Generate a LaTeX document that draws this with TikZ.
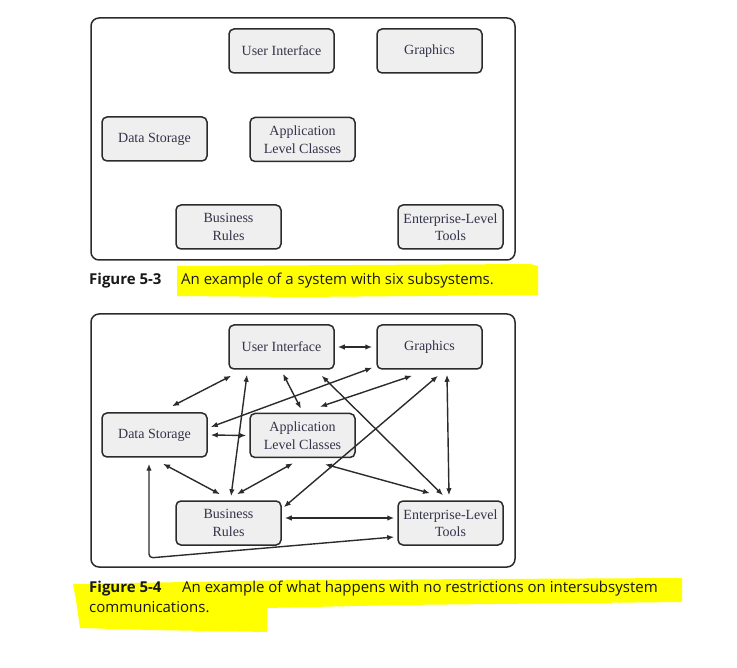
\documentclass[tikz,border=0pt]{standalone}
\usepackage{fontspec}
\newfontfamily\capfont{Open Sans}
\newfontfamily\boxfont{Liberation Serif}
\usetikzlibrary{arrows.meta}
\definecolor{boxfill}{HTML}{EFEFEF}
\definecolor{boxline}{HTML}{2B2B2B}
\definecolor{boxtext}{HTML}{33334A}
\definecolor{marker}{HTML}{FFFF00}
\tikzset{
  sub/.style={draw=boxline,fill=boxfill,line width=1.5pt,rounded corners=5pt,
    minimum width=105pt,minimum height=44pt,align=center,inner sep=1pt,
    text=boxtext,font=\boxfont\fontsize{14}{17.5}\selectfont},
  frame/.style={draw=boxline,line width=1.5pt,rounded corners=8pt},
  link/.style={<->,line width=1.4pt,draw=boxline},
  captext/.style={anchor=base west,inner sep=0pt,font=\capfont\fontsize{15}{20}\selectfont,text=black!90}
}
\begin{document}
\begin{tikzpicture}[x=1pt,y=-1pt,>={Latex[length=7pt,width=5.5pt]}]
\useasboundingbox (0,0) rectangle (737,668);

% highlighter marks
\fill[marker] (177,266) -- (530,264) -- (538,266) -- (538,295) -- (300,297) -- (177,296) -- cycle;
\fill[marker] (73,584) -- (300,580) -- (682,578) -- (682,602) -- (400,605) -- (267,608) -- (267,632) -- (150,630) -- (80,628) -- (76,600) -- cycle;

% Figure 5-3
\draw[frame] (91,18) rectangle (515,260);
\node[sub] (ui) at (281.5,51) {User Interface};
\node[sub] (gfx) at (429.5,51) {Graphics};
\node[sub] (ds) at (154.5,139) {Data Storage};
\node[sub] (alc) at (302.5,139.5) {Application\\Level Classes};
\node[sub] (br) at (228.5,227) {Business\\Rules};
\node[sub] (elt) at (450.5,227) {Enterprise-Level\\Tools};

\node[captext] (capA) at (89,285) {\bfseries Figure 5-3};
\node[captext] (capAtext) at (181,285) {An example of a system with six subsystems.};

% Figure 5-4
\draw[frame] (91,314) rectangle (515,567);
\node[sub] (ui2) at (281.5,347) {User Interface};
\node[sub] (gfx2) at (429.5,347) {Graphics};
\node[sub] (ds2) at (154.5,435) {Data Storage};
\node[sub] (alc2) at (302.5,435.5) {Application\\Level Classes};
\node[sub] (br2) at (228.5,523) {Business\\Rules};
\node[sub] (elt2) at (450.5,523) {Enterprise-Level\\Tools};

\draw[link] ([xshift=3pt]ui2.east) -- ([xshift=-4pt]gfx2.west);
\draw[link] ([xshift=3pt,yshift=-6pt]ui2.south west) -- ([xshift=17.5pt,yshift=6pt]ds2.north);
\draw[link] ([xshift=-34.5pt,yshift=-5pt]ui2.south) -- ([xshift=2.5pt,yshift=4pt]br2.north);
\draw[link] ([xshift=1.5pt,yshift=-4pt]ui2.south) -- ([xshift=-1.5pt,yshift=4pt]alc2.north);
\draw[link] ([xshift=-13pt,yshift=-6pt]ui2.south east) -- ([xshift=-7.5pt,yshift=5pt]elt2.north);
\draw[link] ([xshift=-4pt,yshift=2pt]gfx2.south west) -- ([xshift=3pt,yshift=8pt]ds2.east);
\draw[link] ([xshift=-17.5pt,yshift=-6pt]gfx2.south) -- ([xshift=17.5pt,yshift=6pt]alc2.north);
\draw[link] ([xshift=8.5pt,yshift=-6pt]gfx2.south) -- ([xshift=2pt,yshift=-7pt]br2.north east);
\draw[link] ([xshift=17.5pt,yshift=-5pt]gfx2.south) -- ([xshift=-1.5pt,yshift=5pt]elt2.north);
\draw[link] ([xshift=3pt]ds2.east) -- ([xshift=-3pt]alc2.west);
\draw[link] ([xshift=8.5pt,yshift=-6pt]ds2.south) -- ([xshift=-8.5pt,yshift=6pt]br2.north);
\draw[link] ([xshift=-9.5pt,yshift=-5pt]alc2.south) -- ([xshift=8.5pt,yshift=6pt]br2.north);
\draw[link] ([xshift=22.5pt,yshift=-6pt]alc2.south) -- ([xshift=-20.5pt,yshift=7pt]elt2.north);
\draw[link] ([xshift=3pt,yshift=5pt]br2.east) -- ([xshift=-3pt,yshift=5pt]elt2.west);
\coordinate (bend) at (149,558);
\draw[link,rounded corners=4pt] ([xshift=-5.5pt,yshift=-6pt]ds2.south) -- (bend) -- ([xshift=-3pt,yshift=-14pt]elt2.west);

\node[captext] (capB) at (89,592) {\bfseries Figure 5-4};
\node[captext] (capBtext) at (182,592) {An example of what happens with no restrictions on intersubsystem};
\node[captext] (capBmore) at (89,612) {communications.};
\end{tikzpicture}
\end{document}
